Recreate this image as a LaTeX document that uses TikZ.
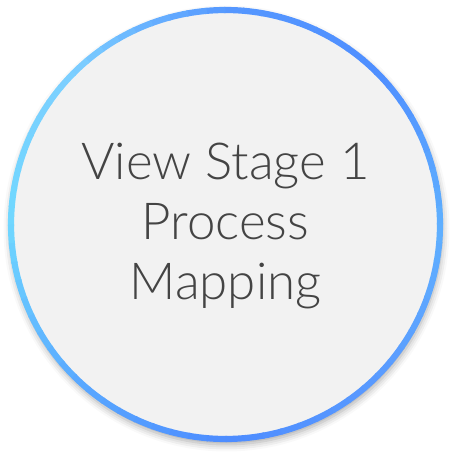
\documentclass[tikz,border=0pt]{standalone}
\usepackage{fontspec}
\setmainfont{Lato}[UprightFont=* Light]
\usetikzlibrary{shadows.blur}
\definecolor{colA}{HTML}{5FB0FF}% 0
\definecolor{colB}{HTML}{4F8EFF}% 45
\definecolor{colC}{HTML}{5598FF}% 90
\definecolor{colD}{HTML}{7DCFFF}% 135
\definecolor{colE}{HTML}{70D8FF}% 180
\definecolor{colF}{HTML}{5AAAFF}% 225
\definecolor{colG}{HTML}{4D8CFF}% 270
\definecolor{colH}{HTML}{5A9BFF}% 315
\definecolor{diskfill}{HTML}{F2F2F2}
\definecolor{txt}{HTML}{444444}
\tikzset{
  label text/.style={font=\fontsize{51}{60}\selectfont, text=txt, anchor=base, inner sep=0pt},
  ring seg/.style={line width=6.2, line cap=butt}
}
\begin{document}
\begin{tikzpicture}[x=1pt,y=1pt]
\useasboundingbox (0,0) rectangle (459,459);
\coordinate (c) at (225.5,234.5);
\fill[diskfill, blur shadow={shadow xshift=1pt, shadow yshift=-4pt, shadow blur radius=7pt, shadow opacity=35}] (c) circle[radius=216];
\fill[diskfill] (c) circle[radius=214];
\foreach \k/\ca/\cb in {0/colA/colB,1/colB/colC,2/colC/colD,3/colD/colE,4/colE/colF,5/colF/colG,6/colG/colH,7/colH/colA}{
  \foreach \j in {0,...,8}{
    \pgfmathsetmacro\p{100*(\j+0.5)/9}
    \pgfmathsetmacro\a{45*\k+5*\j}
    \draw[ring seg, color=\cb!\p!\ca] (c) ++(\a:214.5) arc[start angle=\a, end angle=\a+5.4, radius=214.5];
  }
}
\node[label text] (l1) at (225.5,279) {View Stage 1};
\node[label text] (l2) at (225.5,219) {Process};
\node[label text] (l3) at (225.5,159) {Mapping};
\end{tikzpicture}
\end{document}
